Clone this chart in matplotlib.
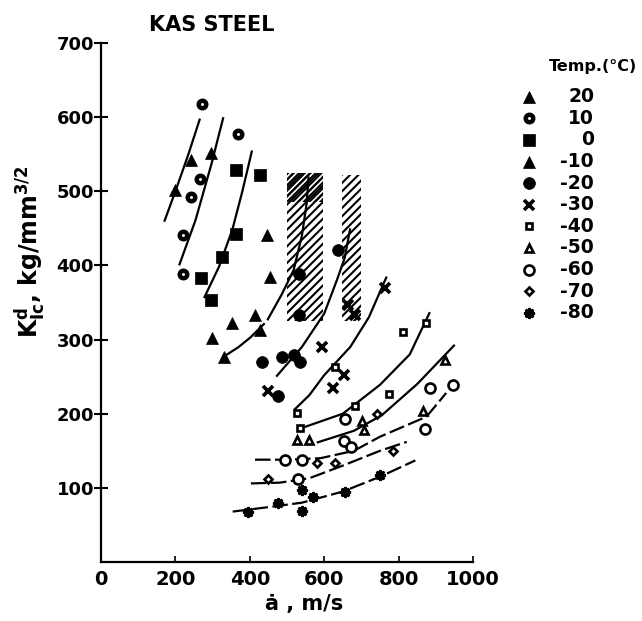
import matplotlib.pyplot as plt
from matplotlib.patches import Rectangle

plt.rcParams['font.family'] = ['DejaVu Sans']
plt.rcParams['font.weight'] = 'bold'
plt.rcParams['mathtext.default'] = 'bf'
plt.rcParams['hatch.linewidth'] = 1.5

# test temperatures (deg C)
temps = ['20', '10', '0', '-10', '-20', '-30', '-40', '-50', '-60', '-70', '-80']

# crack speed a (m/s) and dynamic toughness K (kg/mm^3/2) for every temperature
a_p20 = [198, 243, 295]
k_p20 = [502, 542, 551]
a_p10 = [221, 241, 266, 221, 368, 272]
k_p10 = [441, 492, 517, 388, 577, 618]
a_0 = [364, 427, 362, 326, 270, 295]
k_0 = [529, 522, 442, 412, 383, 354]
a_m10 = [447, 455, 415, 352, 427, 299, 330]
k_m10 = [441, 384, 333, 322, 313, 302, 277]
a_m20 = [531, 638, 531, 433, 487, 518, 536, 475]
k_m20 = [389, 421, 333, 270, 277, 279, 270, 224]
a_m30 = [448, 594, 624, 652, 763, 665, 683]
k_m30 = [230, 290, 235, 252, 370, 346, 333]
a_m40 = [527, 534, 630, 683, 774, 811, 875]
k_m40 = [201, 181, 263, 211, 226, 310, 322]
a_m50 = [527, 558, 702, 707, 866, 924]
k_m50 = [164, 164, 190, 178, 203, 272]
a_m60 = [494, 541, 530, 655, 652, 672, 884, 872, 945]
k_m60 = [138, 138, 112, 193, 163, 155, 235, 180, 239]
a_m70 = [448, 580, 630, 743, 785]
k_m70 = [112, 134, 133, 200, 150]
a_m80 = [396, 475, 539, 539, 569, 657, 749]
k_m80 = [68, 80, 69, 97, 87, 95, 117]

series_a = [a_p20, a_p10, a_0, a_m10, a_m20, a_m30, a_m40, a_m50, a_m60, a_m70, a_m80]
series_k = [k_p20, k_p10, k_0, k_m10, k_m20, k_m30, k_m40, k_m50, k_m60, k_m70, k_m80]

# hand-drawn trend curves (a, K vertices)
curve_a = [
    [170, 200, 235, 266],
    [210, 254, 297, 329],
    [277, 317, 353, 380, 406],
    [330, 370, 402, 440],
    [447, 487, 518, 540, 553, 558],
    [471, 540, 600, 634, 655, 670],
    [519, 560, 600, 670, 720, 768],
    [547, 650, 750, 830, 884],
    [580, 680, 755, 850, 951],
]
curve_k = [
    [459, 500, 550, 598],
    [400, 461, 537, 600],
    [356, 398, 448, 500, 555],
    [277, 290, 303, 322],
    [326, 362, 394, 440, 484, 520],
    [250, 290, 335, 380, 410, 450],
    [205, 225, 252, 290, 330, 385],
    [182, 200, 239, 280, 337],
    [161, 177, 198, 240, 293],
]
# broken curves for the lowest temperatures
dash_a = [
    [414, 500, 590, 680, 750, 875, 928],
    [403, 480, 560, 650, 750, 822],
    [354, 450, 540, 650, 750, 845],
]
dash_k = [
    [138, 138, 140, 150, 169, 196, 228],
    [106, 107, 113, 130, 150, 162],
    [68, 74, 80, 95, 115, 137],
]

# hatched bands (a0, a1, K0, K1)
bands = [(500, 597, 325, 524), (647, 698, 325, 522)]
dense_band = (500, 597, 486, 524)

# marker, size, face, edge width
styles = [
    ('^', 9, 'black', 0.5),
    ('o', 5.4, 'white', 3.2),
    ('s', 8, 'black', 0.5),
    ('^', 9, 'black', 0.5),
    ('o', 8.5, 'black', 0.5),
    ('x', 6.5, 'black', 2.6),
    ('s', 4.8, 'white', 1.9),
    ('^', 6, 'white', 1.9),
    ('o', 7.2, 'white', 1.9),
    ('D', 4.3, 'white', 1.9),
    ((8, 1, 0), 7.5, 'black', 1.8),
]

fig = plt.figure(figsize=(6.42, 6.21), dpi=100)
ax = fig.add_axes([101 / 642, 1 - 562 / 621, 372 / 642, 519 / 621])

for a0, a1, k0, k1 in bands:
    ax.add_patch(Rectangle((a0, k0), a1 - a0, k1 - k0, facecolor='none',
                           edgecolor='black', linewidth=0, hatch='////', zorder=1))
a0, a1, k0, k1 = dense_band
ax.add_patch(Rectangle((a0, k0), a1 - a0, k1 - k0, facecolor='none',
                       edgecolor='black', linewidth=0, hatch='//////', zorder=1))

for ca, ck in zip(curve_a, curve_k):
    ax.plot(ca, ck, color='black', lw=1.6, solid_capstyle='butt', zorder=2)
for ca, ck in zip(dash_a, dash_k):
    ax.plot(ca, ck, color='black', lw=1.6, dashes=(7, 2), zorder=2)

for xs, ys, (m, s, fc, mew) in zip(series_a, series_k, styles):
    ax.plot(xs, ys, linestyle='none', marker=m, markersize=s,
            markerfacecolor=fc, markeredgecolor='black', markeredgewidth=mew,
            zorder=3)

ax.set_xlim(0, 1000)
ax.set_ylim(0, 700)
ax.set_xticks([0, 200, 400, 600, 800, 1000])
ax.set_yticks([100, 200, 300, 400, 500, 600, 700])
ax.tick_params(axis='x', direction='in', length=4, width=1.2, pad=6, labelsize=14)
ax.tick_params(axis='y', direction='inout', length=10, width=1.5, pad=0, labelsize=13)
for lab in ax.get_xticklabels() + ax.get_yticklabels():
    lab.set_fontweight('bold')
for side in ['top', 'right']:
    ax.spines[side].set_visible(False)
for side in ['left', 'bottom']:
    ax.spines[side].set_linewidth(1.6)

fig.text(212 / 642, 1 - 25 / 621, 'KAS STEEL', ha='center', va='center',
         fontsize=15, fontweight='bold')
fig.text(304 / 642, 1 - 604 / 621, 'ȧ , m/s', ha='center', va='center',
         fontsize=15, fontweight='bold')
fig.text(30 / 642, 1 - 252 / 621, r'$K^{d}_{Ic}$, kg/mm$^{3/2}$', rotation=90,
         ha='center', va='center', fontsize=17, fontweight='bold')

# legend drawn in pixel coordinates
leg = fig.add_axes([0, 0, 1, 1], facecolor='none')
leg.set_xlim(0, 642)
leg.set_ylim(621, 0)
leg.axis('off')
leg.text(549, 66, 'Temp.(°C)', ha='left', va='center', fontsize=11.5,
         fontweight='bold')
for i, (t, (m, s, fc, mew)) in enumerate(zip(temps, styles)):
    y = 96.7 + i * 21.6
    leg.plot([529], [y], linestyle='none', marker=m, markersize=s,
             markerfacecolor=fc, markeredgecolor='black', markeredgewidth=mew)
    leg.text(594, y, t, ha='right', va='center', fontsize=13.5,
             fontweight='bold')

fig.savefig('out.png', dpi=100)
